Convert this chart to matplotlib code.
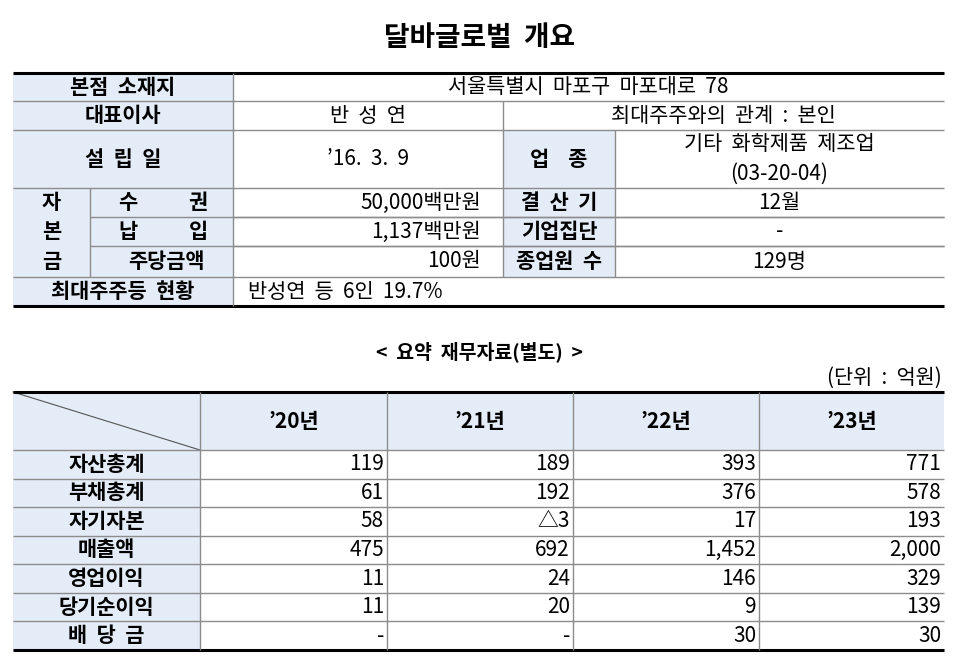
import matplotlib
matplotlib.use("Agg")
import matplotlib.pyplot as plt
from matplotlib.patches import Rectangle

plt.rcParams['font.family'] = ['Noto Sans CJK KR', 'DejaVu Sans']

title = "달바글로벌  개요"
subtitle = "<  요약  재무자료(별도)  >"
unit = "(단위  :  억원)"
years = ["’20년", "’21년", "’22년", "’23년"]
items = ["자산총계", "부채총계", "자기자본", "매출액", "영업이익", "당기순이익", "배  당  금"]
values = [
    ["119", "189", "393", "771"],
    ["61", "192", "376", "578"],
    ["58", "△3", "17", "193"],
    ["475", "692", "1,452", "2,000"],
    ["11", "24", "146", "329"],
    ["11", "20", "9", "139"],
    ["-", "-", "30", "30"],
]

SH = "#e4ecf7"
GR = "#8c8c8c"
FS = 15

fig = plt.figure(figsize=(9.6, 6.63), dpi=100)
ax = fig.add_axes([0, 0, 1, 1])
ax.set_xlim(0, 960); ax.set_ylim(663, 0); ax.axis('off')

def shade(x0, y0, x1, y1):
    ax.add_patch(Rectangle((x0, y0), x1 - x0, y1 - y0, facecolor=SH, edgecolor='none', zorder=0))

def hl(y, x0, x1, lw=1, c=GR):
    ax.plot([x0, x1], [y, y], color=c, lw=lw, zorder=2, solid_capstyle='butt')

def vl(x, y0, y1, lw=1, c=GR):
    ax.plot([x, x], [y0, y1], color=c, lw=lw, zorder=2, solid_capstyle='butt')

def t(x, y, s, ha='center', bold=False, fs=FS):
    ax.text(x, y, s, ha=ha, va='center', fontsize=fs, fontweight='bold' if bold else 'normal', zorder=3)

t(480, 38, title, bold=True, fs=20)

# ---- top table ----
L, R = 13, 944
c1, c2, c3 = 233, 503, 615
cs = 90
ys = [73, 101, 130, 188, 217, 246, 277, 306]
shade(L, ys[0], c1, ys[-1])
shade(c2, ys[2], c3, ys[6])
for y in ys[1:-1]:
    hl(y, L if y not in (217, 246) else cs, R)
hl(217, c1, R); hl(246, c1, R)
hl(ys[0], L, R, lw=2.2, c='black'); hl(ys[-1], L, R, lw=2.2, c='black')
vl(c1, ys[0], ys[-1])
vl(cs, ys[3], ys[6])
vl(c2, ys[1], ys[6])
vl(c3, ys[2], ys[6])
mid = lambda a, b: (a + b) / 2
t(mid(L, c1), mid(ys[0], ys[1]), "본점  소재지", bold=True)
t(mid(c1, R), mid(ys[0], ys[1]), "서울특별시  마포구  마포대로  78")
t(mid(L, c1), mid(ys[1], ys[2]), "대표이사", bold=True)
t(mid(c1, c2), mid(ys[1], ys[2]), "반  성  연")
t(mid(c2, R), mid(ys[1], ys[2]), "최대주주와의  관계  :  본인")
t(mid(L, c1), mid(ys[2], ys[3]), "설  립  일", bold=True)
t(mid(c1, c2), mid(ys[2], ys[3]), "’16.  3.  9")
t(mid(c2, c3), mid(ys[2], ys[3]), "업    종", bold=True)
t(mid(c3, R), ys[2] + 14, "기타  화학제품  제조업")
t(mid(c3, R), ys[2] + 44, "(03-20-04)")
for i, ch in enumerate("자본금"):
    t(mid(L, cs), mid(ys[3 + i], ys[4 + i]), ch, bold=True)
t(128, mid(ys[3], ys[4]), "수", bold=True); t(198, mid(ys[3], ys[4]), "권", bold=True)
t(128, mid(ys[4], ys[5]), "납", bold=True); t(198, mid(ys[4], ys[5]), "입", bold=True)
t(mid(cs, c1) + 5, mid(ys[5], ys[6]), "주당금액", bold=True)
t(c2 - 22, mid(ys[3], ys[4]), "50,000백만원", ha='right')
t(c2 - 22, mid(ys[4], ys[5]), "1,137백만원", ha='right')
t(c2 - 22, mid(ys[5], ys[6]), "100원", ha='right')
t(mid(c2, c3), mid(ys[3], ys[4]), "결  산  기", bold=True)
t(mid(c2, c3), mid(ys[4], ys[5]), "기업집단", bold=True)
t(mid(c2, c3), mid(ys[5], ys[6]), "종업원  수", bold=True)
t(mid(c3, R), mid(ys[3], ys[4]), "12월")
t(mid(c3, R), mid(ys[4], ys[5]), "-")
t(mid(c3, R), mid(ys[5], ys[6]), "129명")
t(mid(L, c1), mid(ys[6], ys[7]), "최대주주등  현황", bold=True)
t(248, mid(ys[6], ys[7]), "반성연  등  6인  19.7%", ha='left')

# ---- financial table ----
t(480, 352, subtitle, bold=True, fs=14)
t(942, 378, unit, ha='right')
top, hb = 392, 450
rh = (650 - hb) / len(items)
cols = [L, 200, 387, 573, 759, R]
shade(L, top, R, hb)
shade(L, hb, cols[1], 650)
ax.plot([L, cols[1]], [top, hb], color='#555555', lw=0.8, zorder=2)
hl(top, L, R, lw=2.2, c='black'); hl(650, L, R, lw=2.2, c='black')
hl(hb, L, R)
for i in range(1, len(items)):
    hl(hb + i * rh, L, R)
for x in cols[1:-1]:
    vl(x, top, 650)
for j, yname in enumerate(years):
    t(mid(cols[j + 1], cols[j + 2]), mid(top, hb), yname, bold=True)
for i, name in enumerate(items):
    yc = hb + (i + 0.5) * rh
    t(mid(L, cols[1]), yc, name, bold=True)
    for j in range(4):
        t(cols[j + 2] - 3, yc, values[i][j], ha='right')

fig.savefig("out.png", dpi=100)
